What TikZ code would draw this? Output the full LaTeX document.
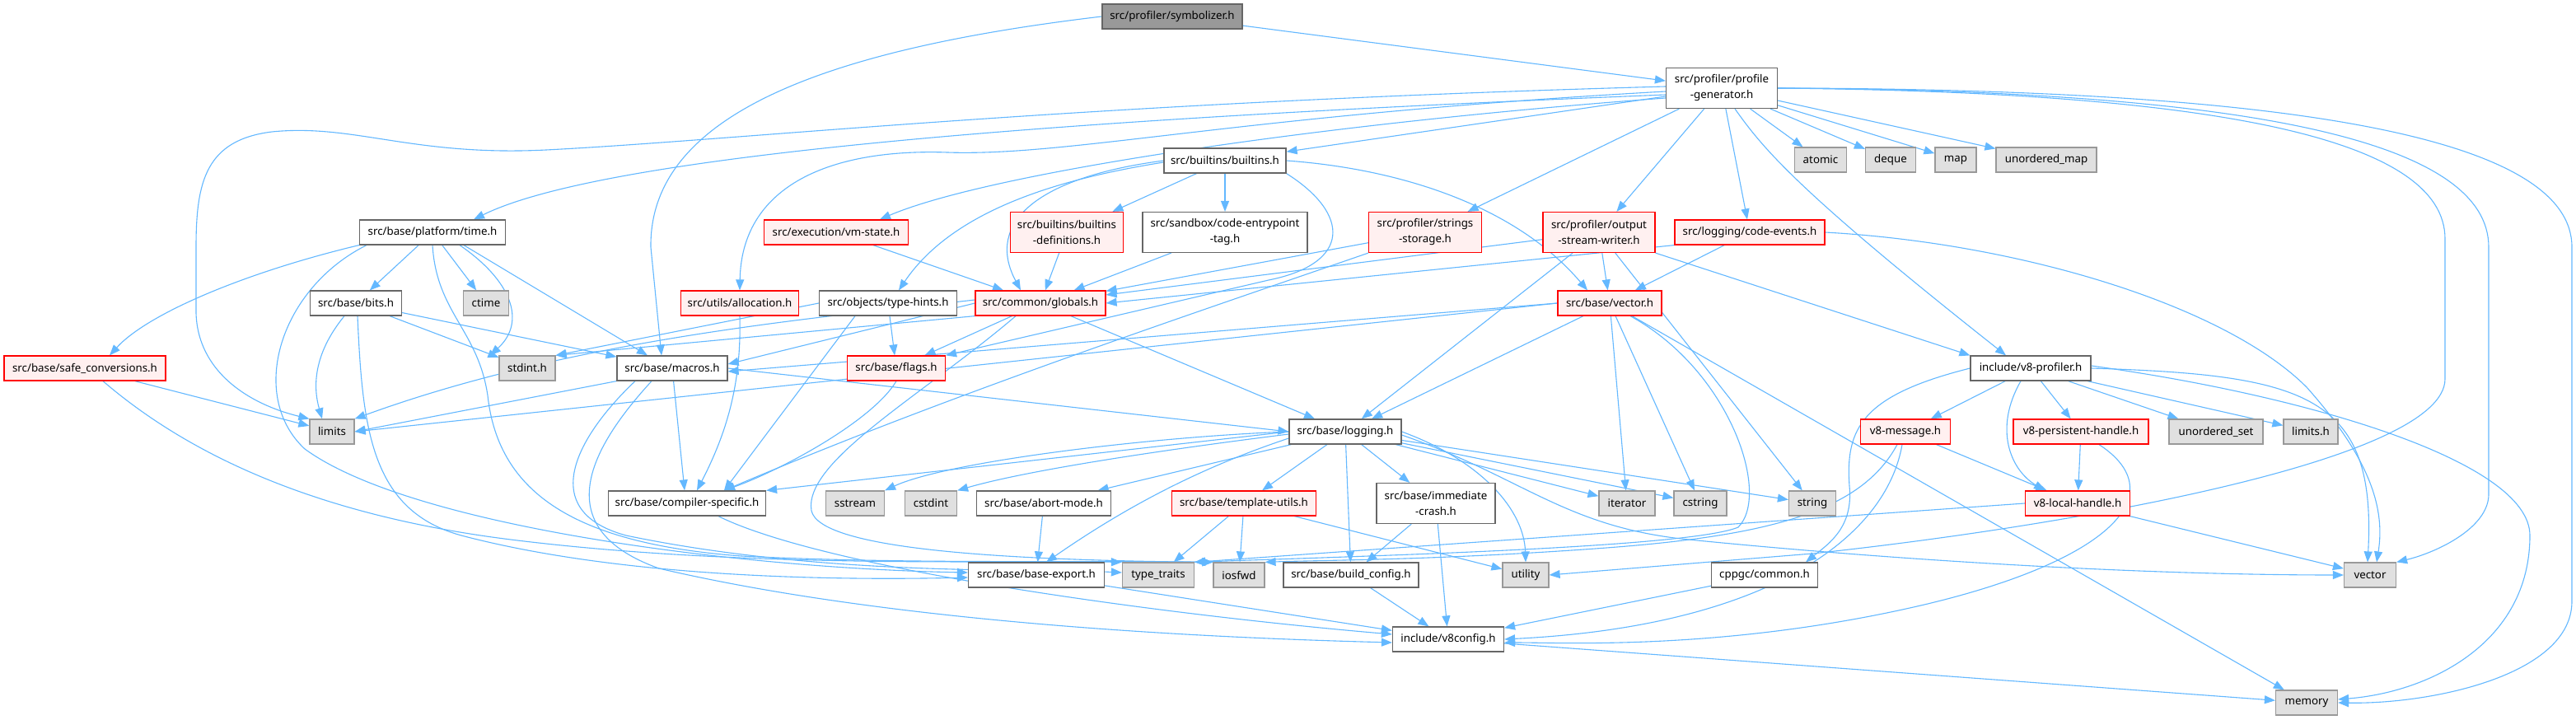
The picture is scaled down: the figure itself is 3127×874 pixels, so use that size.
\documentclass[tikz,border=0pt]{standalone}
\usepackage{fontspec}
\setmainfont{Noto Sans}
\usetikzlibrary{arrows.meta,backgrounds}
\definecolor{linkblue}{HTML}{63B8FF}
\definecolor{boxgray}{HTML}{E0E0E0}
\definecolor{boxpink}{HTML}{FFF0F0}

\begin{document}
\begin{tikzpicture}[x=1pt,y=-1pt,
  hdr/.style={rectangle, draw=black!60, fill=white, line width=1.2pt, minimum height=30pt, inner sep=2pt, align=center, font=\fontsize{13.3}{19}\selectfont},
  sys/.style={hdr, draw=black!40, fill=boxgray},
  trunc/.style={hdr, draw=red, fill=boxpink},
  root/.style={hdr, fill=black!40},
  dep/.style={-{Triangle[length=13pt,width=10pt]}, linkblue, line width=1.1pt}
]
  % nodes, row by row
  \node[root, minimum width=170] (sym) at (1423,20) {src/profiler/symbolizer.h};
  \node[hdr, minimum width=135, minimum height=49] (pg) at (2090,107) {src/profiler/profile\\-generator.h};

  \node[hdr, minimum width=148] (builtins) at (1487,195) {src/builtins/builtins.h};
  \node[sys, minimum width=63] (atomic) at (2210,194) {atomic};
  \node[sys, minimum width=61] (deque) at (2295,194) {deque};
  \node[sys, minimum width=50] (map) at (2374,194) {map};
  \node[sys, minimum width=122] (umap) at (2484,194) {unordered\_map};

  \node[hdr, minimum width=177] (time) at (525,282) {src/base/platform/time.h};
  \node[trunc, minimum width=175] (vmstate) at (1015,282) {src/execution/vm-state.h};
  \node[trunc, minimum width=137, minimum height=49] (bdefs) at (1295,282) {src/builtins/builtins\\-definitions.h};
  \node[hdr, minimum width=200, minimum height=49] (entry) at (1487,282) {src/sandbox/code-entrypoint\\-tag.h};
  \node[trunc, minimum width=137, minimum height=49] (strs) at (1730,282) {src/profiler/strings\\-storage.h};
  \node[trunc, minimum width=136, minimum height=49] (osw) at (1941,282) {src/profiler/output\\-stream-writer.h};
  \node[trunc, minimum width=182] (cev) at (2124,282) {src/logging/code-events.h};

  \node[hdr, minimum width=111] (bits) at (432,368) {src/base/bits.h};
  \node[sys, minimum width=55] (ctime) at (590,368) {ctime};
  \node[trunc, minimum width=143] (alloc) at (898,368) {src/utils/allocation.h};
  \node[hdr, minimum width=167] (hints) at (1078,368) {src/objects/type-hints.h};
  \node[trunc, minimum width=158] (globals) at (1263,368) {src/common/globals.h};
  \node[trunc, minimum width=126] (vech) at (1954,368) {src/base/vector.h};

  \node[trunc, minimum width=196] (safe) at (103,447) {src/base/safe\_conversions.h};
  \node[sys, minimum width=68] (stdint) at (640,447) {stdint.h};
  \node[hdr, minimum width=134] (macros) at (816,447) {src/base/macros.h};
  \node[trunc, minimum width=119] (flags) at (1088,447) {src/base/flags.h};
  \node[hdr, minimum width=146] (v8prof) at (2465,447) {include/v8-profiler.h};

  \node[sys, minimum width=54] (limits) at (403,524) {limits};
  \node[hdr, minimum width=136] (logging) at (1633,524) {src/base/logging.h};
  \node[trunc, minimum width=109] (v8msg) at (2313,524) {v8-message.h};
  \node[trunc, minimum width=164] (persist) at (2526,524) {v8-persistent-handle.h};
  \node[sys, minimum width=114] (uset) at (2690,524) {unordered\_set};
  \node[sys, minimum width=66] (limitsh) at (2805,524) {limits.h};

  \node[hdr, minimum width=191] (compiler) at (834,611) {src/base/compiler-specific.h};
  \node[sys, minimum width=71] (sstream) at (1038,611) {sstream};
  \node[sys, minimum width=63] (cstdint) at (1130,611) {cstdint};
  \node[hdr, minimum width=163] (abort) at (1267,611) {src/base/abort-mode.h};
  \node[trunc, minimum width=175] (tmpl) at (1510,611) {src/base/template-utils.h};
  \node[hdr, minimum width=144, minimum height=49] (crash) at (1743,611) {src/base/immediate\\-crash.h};
  \node[sys, minimum width=68] (iterator) at (1975,611) {iterator};
  \node[sys, minimum width=64] (cstring) at (2064,611) {cstring};
  \node[sys, minimum width=57] (string) at (2200,611) {string};
  \node[trunc, minimum width=127] (local) at (2522,611) {v8-local-handle.h};

  \node[hdr, minimum width=165] (export) at (1258,698) {src/base/base-export.h};
  \node[sys, minimum width=87] (traits) at (1406,698) {type\_traits};
  \node[sys, minimum width=62] (iosfwd) at (1504,698) {iosfwd};
  \node[hdr, minimum width=164] (buildcfg) at (1640,698) {src/base/build\_config.h};
  \node[sys, minimum width=56] (utility) at (1852,698) {utility};
  \node[hdr, minimum width=129] (cppgc) at (2142,698) {cppgc/common.h};
  \node[sys, minimum width=63] (vector) at (2877,698) {vector};

  \node[hdr, minimum width=135] (v8config) at (1758,776) {include/v8config.h};
  \node[sys, minimum width=75] (memory) at (2800,853) {memory};

  \begin{scope}[on background layer]
  \path[fill=white] (0,0) rectangle (3127,874);

  % symbolizer.h
  \draw[dep] (sym) -- (pg);
  \draw[dep] (sym.west) .. controls (1000,60) and (788,140) .. (790,300) -- ([xshift=-13pt]macros.north);

  % profile-generator.h
  \draw[dep] (pg) -- (builtins);
  \draw[dep] (pg) -- (atomic);
  \draw[dep] (pg) -- (deque);
  \draw[dep] (pg) -- (map);
  \draw[dep] (pg) -- (umap);
  \draw[dep] (pg) -- (strs);
  \draw[dep] (pg) -- (osw);
  \draw[dep] (pg) -- (cev);
  \draw[dep] ([xshift=16pt]pg.south) .. controls (2140,180) and (2180,230) .. ([xshift=-30pt]v8prof.north);
  \draw[dep] ([yshift=-8pt]pg.west) .. controls (1400,140) and (750,180) .. ([xshift=50pt]time.north);
  \draw[dep] ([yshift=2pt]pg.west) .. controls (1300,125) and (900,170) .. (663,182) .. controls (500,190) and (430,150) .. (330,160) .. controls (250,170) and (238,220) .. (238,300) -- (238,380) .. controls (240,450) and (300,490) .. (limits.north west);
  \draw[dep] ([yshift=-12pt]pg.west) .. controls (1600,150) and (1200,210) .. ([xshift=53pt]vmstate.north);
  \draw[dep] ([yshift=-4pt]pg.west) .. controls (1500,140) and (1300,190) .. (1150,185) .. controls (1000,180) and (900,230) .. (alloc.north);
  \draw[dep] (pg.east) .. controls (2700,112) and (2968,170) .. (2968,290) -- (2968,460) .. controls (2968,560) and (2500,640) .. (2200,672) -- (utility.east);
  \draw[dep] (pg.east) .. controls (2750,110) and (3021,175) .. (3021,300) -- (3021,600) .. controls (3021,640) and (2960,670) .. (vector.north east);
  \draw[dep] (pg.east) .. controls (2800,108) and (3122,170) .. (3122,300) -- (3122,730) .. controls (3122,820) and (2950,855) .. (memory.east);

  % builtins.h
  \draw[dep] (builtins) -- (bdefs);
  \draw[dep] (builtins) -- (entry);
  \draw[dep] (builtins.west) .. controls (1260,215) and (1195,270) .. ([xshift=-24pt]globals.north);
  \draw[dep] ([yshift=-2pt]builtins.west) .. controls (1300,215) and (1160,250) .. ([xshift=13pt]hints.north);
  \draw[dep] (builtins.east) .. controls (1700,205) and (1840,250) .. ([xshift=-27pt]vech.north);
  \draw[dep] (builtins.south east) .. controls (1640,260) and (1640,320) .. (1540,340) -- (flags.north east);

  % into globals.h
  \draw[dep] (vmstate) -- (globals);
  \draw[dep] (bdefs) -- (globals);
  \draw[dep] (entry) -- (globals);
  \draw[dep] (strs) -- (globals);
  \draw[dep] (osw) -- (globals);
  \draw[dep] (cev.south west) -- (globals.east);

  % strings-storage.h, output-stream-writer.h, code-events.h
  \draw[dep] (strs.south west) .. controls (1450,380) and (1150,480) .. ([xshift=45pt]compiler.north);
  \draw[dep] (osw) -- (vech);
  \draw[dep] (osw) -- (logging);
  \draw[dep] (osw) -- (string);
  \draw[dep] (osw.south east) -- (v8prof.north west);
  \draw[dep] (cev) -- (vech);
  \draw[dep] (cev.east) .. controls (2450,295) and (2700,370) .. (2800,470) .. controls (2880,560) and (2895,620) .. ([xshift=8pt]vector.north);

  % platform/time.h
  \draw[dep] (time.south west) .. controls (300,330) and (180,380) .. ([xshift=30pt]safe.north);
  \draw[dep] (time) -- (bits);
  \draw[dep] (time) -- (ctime);
  \draw[dep] ([xshift=33pt]time.south) .. controls (620,340) and (640,390) .. ([xshift=-45pt]stdint.north);
  \draw[dep] ([xshift=38pt]time.south) -- ([xshift=-30pt]macros.north);
  \draw[dep] (time.south) .. controls (530,380) and (580,400) .. (592,480) .. controls (605,600) and (700,660) .. (900,675) .. controls (1100,685) and (1300,680) .. (iosfwd.north west);
  \draw[dep] ([xshift=-80pt]time.south) .. controls (340,350) and (300,480) .. (370,545) .. controls (500,640) and (900,690) .. ([yshift=3pt]export.west);

  % bits.h, safe_conversions.h
  \draw[dep] (bits) -- (stdint);
  \draw[dep] (bits) -- (macros);
  \draw[dep] ([xshift=-14pt]bits.south) .. controls (380,430) and (380,470) .. ([xshift=-12pt]limits.north);
  \draw[dep] ([xshift=2pt]bits.south) .. controls (440,520) and (450,620) .. (560,650) .. controls (750,700) and (1000,705) .. ([yshift=-3pt]export.west);
  \draw[dep] (safe) -- (limits);
  \draw[dep] ([xshift=22pt]safe.south) .. controls (250,570) and (420,630) .. (620,655) .. controls (900,690) and (1200,680) .. (traits.north west);

  % macros.h
  \draw[dep] (macros) -- ([xshift=-3pt]compiler.north);
  \draw[dep] (macros.east) -- (logging.west);
  \draw[dep] (macros.south west) -- (limits.east);
  \draw[dep] ([xshift=-45pt]macros.south) .. controls (700,530) and (650,620) .. (760,650) .. controls (1000,700) and (1250,690) .. ([yshift=3pt]traits.west);
  \draw[dep] ([xshift=-25pt]macros.south) .. controls (720,540) and (660,640) .. (800,690) .. controls (1100,760) and (1500,775) .. ([yshift=-4pt]v8config.west);

  % globals.h, type-hints.h, flags.h, allocation.h
  \draw[dep] (globals) -- (flags);
  \draw[dep] (globals) -- (logging);
  \draw[dep] (globals.west) -- ([yshift=5pt]macros.east);
  \draw[dep] (globals.south west) -- (stdint.north east);
  \draw[dep] ([yshift=4pt]globals.west) .. controls (1000,385) and (700,410) .. (limits.north east);
  \draw[dep] ([xshift=-30pt]globals.south) .. controls (1120,480) and (975,560) .. (985,620) .. controls (995,665) and (1200,680) .. (iosfwd.north west);
  \draw[dep] (hints) -- (flags);
  \draw[dep] (hints.west) -- (stdint.north east);
  \draw[dep] ([xshift=-40pt]hints.south) -- ([xshift=45pt]compiler.north);
  \draw[dep] (flags.south) .. controls (1060,510) and (950,570) .. ([xshift=45pt]compiler.north);
  \draw[dep] (alloc.south) .. controls (900,460) and (885,520) .. ([xshift=12pt]compiler.north);

  % vector.h
  \draw[dep] (vech.west) -- ([yshift=-4pt]macros.east);
  \draw[dep] (vech.west) -- (limits.east);
  \draw[dep] (vech) -- (logging);
  \draw[dep] (vech) -- (iterator);
  \draw[dep] (vech) -- (cstring);
  \draw[dep] (vech) -- (memory);
  \draw[dep] ([xshift=25pt]vech.south) .. controls (2100,450) and (2150,600) .. (2110,640) .. controls (2050,665) and (1650,675) .. (traits.north east);

  % logging.h
  \draw[dep] (logging.west) -- (compiler.north east);
  \draw[dep] (logging.west) .. controls (1400,530) and (1150,560) .. (sstream.north east);
  \draw[dep] ([yshift=-3pt]logging.west) .. controls (1420,545) and (1250,570) .. (cstdint.north east);
  \draw[dep] (logging) -- (abort);
  \draw[dep] (logging) -- (tmpl);
  \draw[dep] ([yshift=-8pt]logging.west) .. controls (1450,570) and (1360,620) .. ([xshift=12pt]export.north);
  \draw[dep] (logging) -- (crash);
  \draw[dep] (logging) -- (buildcfg);
  \draw[dep] (logging.east) .. controls (1800,560) and (1850,620) .. (utility.north);
  \draw[dep] (logging) -- (iterator);
  \draw[dep] (logging) -- (cstring);
  \draw[dep] (logging) -- (string);
  \draw[dep] ([yshift=-4pt]logging.east) .. controls (1850,580) and (1900,640) .. (2050,655) .. controls (2300,680) and (2600,698) .. (vector.west);

  % lower base headers
  \draw[dep] (tmpl) -- (traits);
  \draw[dep] (tmpl) -- (iosfwd);
  \draw[dep] (tmpl) -- (utility);
  \draw[dep] (abort) -- (export);
  \draw[dep] (crash) -- (buildcfg);
  \draw[dep] (crash) -- (v8config);
  \draw[dep] ([xshift=38pt]compiler.south) .. controls (1000,690) and (1400,745) .. ([yshift=6pt]v8config.west);
  \draw[dep] (export) -- (v8config);
  \draw[dep] (buildcfg) -- (v8config);
  \draw[dep] (cppgc) -- (v8config);
  \draw[dep] (v8config) -- (memory);

  % v8-profiler.h and friends
  \draw[dep] (v8prof) -- (v8msg);
  \draw[dep] (v8prof) -- (persist);
  \draw[dep] (v8prof) -- (uset);
  \draw[dep] (v8prof) -- (limitsh);
  \draw[dep] ([xshift=-12pt]v8prof.south) .. controls (2420,520) and (2440,570) .. ([xshift=-40pt]local.north);
  \draw[dep] (v8prof.east) .. controls (2800,455) and (2885,480) .. ([xshift=-3pt]vector.north);
  \draw[dep] ([yshift=3pt]v8prof.east) .. controls (2800,480) and (3071,560) .. (3071,650) .. controls (3071,780) and (2950,840) .. ([yshift=4pt]memory.east);
  \draw[dep] (v8prof.west) .. controls (2260,480) and (2240,520) .. (2245,590) .. controls (2250,640) and (2220,660) .. ([xshift=50pt]cppgc.north);
  \draw[dep] (v8msg) -- (local);
  \draw[dep] ([xshift=-10pt]v8msg.south) .. controls (2260,620) and (2150,650) .. (1950,665) .. controls (1750,680) and (1600,680) .. (iosfwd.north east);
  \draw[dep] ([xshift=-4pt]v8msg.south) .. controls (2290,650) and (2150,760) .. (v8config.east);
  \draw[dep] (persist) -- (local);
  \draw[dep] ([xshift=22pt]persist.south) .. controls (2640,600) and (2560,680) .. (2340,733) .. controls (2100,790) and (1900,780) .. ([yshift=-4pt]v8config.east);
  \draw[dep] (local) -- (vector);
  \draw[dep] (local.west) -- (traits.north east);
  \end{scope}
\end{tikzpicture}
\end{document}
